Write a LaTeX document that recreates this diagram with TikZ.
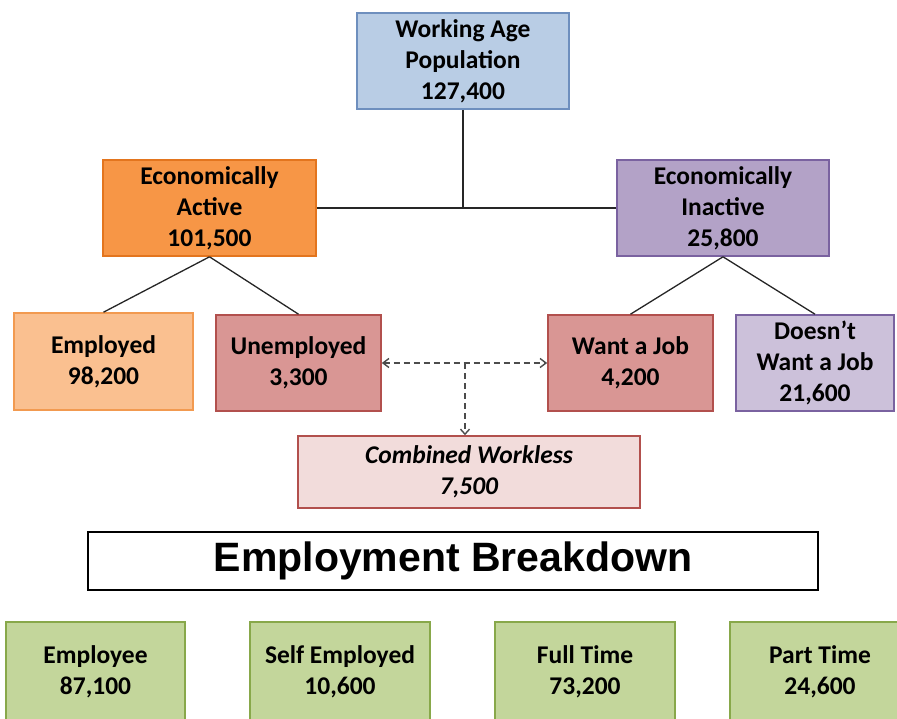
\documentclass[tikz,border=0pt]{standalone}
\usepackage{fontspec}
\setmainfont{Carlito}
\newfontfamily\arialfont{Liberation Sans}
\usetikzlibrary{arrows.meta}
\definecolor{blueF}{HTML}{B9CDE5}\definecolor{blueD}{HTML}{6E8FBE}
\definecolor{orangeF}{HTML}{F79646}\definecolor{orangeD}{HTML}{E3751E}
\definecolor{purpleF}{HTML}{B3A2C7}\definecolor{purpleD}{HTML}{7A62A0}
\definecolor{peachF}{HTML}{FAC090}\definecolor{peachD}{HTML}{F29A50}
\definecolor{redF}{HTML}{D99694}\definecolor{redD}{HTML}{B2504D}
\definecolor{lilacF}{HTML}{CCC1DA}\definecolor{lilacD}{HTML}{7A62A0}
\definecolor{pinkF}{HTML}{F2DCDB}\definecolor{pinkD}{HTML}{B2504D}
\definecolor{greenF}{HTML}{C3D69B}\definecolor{greenD}{HTML}{88A84A}
\tikzset{
  box/.style={draw, line width=1.6pt, rectangle, align=center, inner sep=0pt,
    font=\fontsize{25.5}{31}\selectfont\bfseries},
  conn/.style={line width=1.3pt, draw=black!85},
  dline/.style={line width=1.4pt, draw=black!70, dash pattern=on 6pt off 4pt},
}
\begin{document}
\begin{tikzpicture}[x=1pt,y=-1pt]
\useasboundingbox (0,0) rectangle (897,718);
\node[box, fill=blueF, draw=blueD, minimum width=212pt, minimum height=96pt] (wap) at (463,61) {Working Age\\Population\\127,400};
\node[box, fill=orangeF, draw=orangeD, minimum width=213pt, minimum height=96pt] (ea) at (209.5,208) {Economically\\Active\\101,500};
\node[box, fill=purpleF, draw=purpleD, minimum width=212pt, minimum height=96pt] (ei) at (723,208) {Economically\\Inactive\\25,800};
\node[box, fill=peachF, draw=peachD, minimum width=179pt, minimum height=97pt] (emp) at (103.5,361.5) {Employed\\98,200};
\node[box, fill=redF, draw=redD, minimum width=165pt, minimum height=96pt] (unemp) at (298.5,363) {Unemployed\\3,300};
\node[box, fill=redF, draw=redD, minimum width=165pt, minimum height=96pt] (want) at (630.5,363) {Want a Job\\4,200};
\node[box, fill=lilacF, draw=lilacD, minimum width=158pt, minimum height=96pt] (dwant) at (815,363) {Doesn't\\Want a Job\\21,600};
\node[box, fill=pinkF, draw=pinkD, minimum width=342pt, minimum height=72pt, font=\fontsize{25.5}{31}\selectfont\bfseries\itshape] (cw) at (469,472) {Combined Workless\\7,500};
\node[box, fill=white, draw=black, line width=1.3pt, minimum width=730pt, minimum height=58pt, font=\arialfont\fontsize{41}{43}\selectfont\bfseries] (eb) at (453,561) {Employment Breakdown};
\node[box, fill=greenF, draw=greenD, minimum width=179pt, minimum height=100pt] (ee) at (95.5,672) {Employee\\87,100};
\node[box, fill=greenF, draw=greenD, minimum width=180pt, minimum height=100pt] (se) at (340,672) {Self Employed\\10,600};
\node[box, fill=greenF, draw=greenD, minimum width=180pt, minimum height=100pt] (ft) at (585,672) {Full Time\\73,200};
\node[box, fill=greenF, draw=greenD, minimum width=180pt, minimum height=100pt] (pt) at (820,672) {Part Time\\24,600};
% connectors
\coordinate (j) at (wap.south |- ea.east);
\draw[conn] (ea.east) -- (ei.west);
\draw[conn] (wap.south) -- (j);
\draw[conn] (ea.south) -- (emp.north);
\draw[conn] (ea.south) -- (unemp.north);
\draw[conn] (ei.south) -- (want.north);
\draw[conn] (ei.south) -- (dwant.north);
\coordinate (dj) at (465,363);
\draw[dline, {Straight Barb[length=6pt,width=9pt]}-{Straight Barb[length=6pt,width=9pt]}] (unemp.east) -- (want.west);
\draw[dline, -{Straight Barb[length=5pt,width=9pt]}] (dj) -- (dj |- cw.north);
\end{tikzpicture}
\end{document}
